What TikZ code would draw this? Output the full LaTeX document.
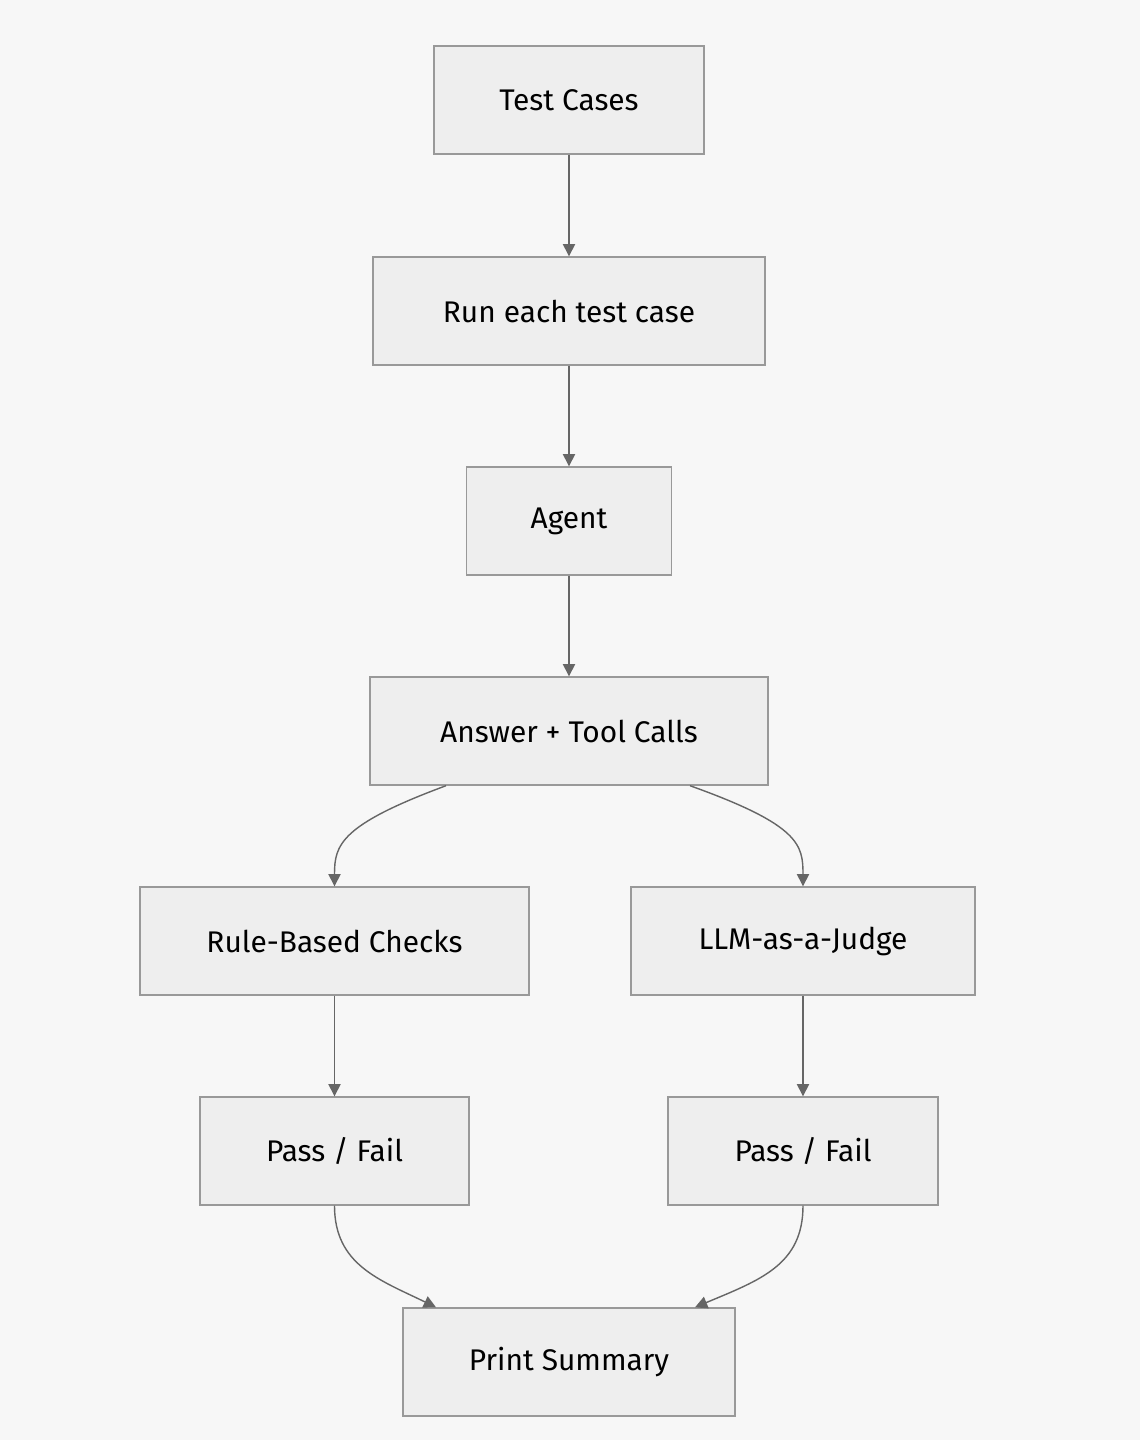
\documentclass[tikz,border=0pt]{standalone}
\usepackage{fontspec}
\setmainfont{Fira Sans}
\usetikzlibrary{arrows.meta}
\definecolor{bgcol}{HTML}{F7F7F7}
\definecolor{boxfill}{HTML}{EEEEEE}
\definecolor{boxline}{HTML}{999999}
\definecolor{linkcol}{HTML}{666666}
\begin{document}
\begin{tikzpicture}[
  box/.style={draw=boxline,fill=boxfill,line width=0.8pt,minimum height=2.16cm,
    font=\fontsize{17}{20}\selectfont},
  link/.style={draw=linkcol,line width=0.8pt,-{Triangle[length=7pt,width=7pt]}}]
\fill[bgcol] (0,0) rectangle (22.8,-28.8);
\useasboundingbox (0,0) rectangle (22.8,-28.8);

\node[box,minimum width=5.4cm] (tests) at (11.38,-2.0) {Test Cases};
\node[box,minimum width=7.84cm] (run) at (11.38,-6.22) {Run each test case};
\node[box,minimum width=4.1cm] (agent) at (11.38,-10.42) {Agent};
\node[box,minimum width=7.96cm] (answer) at (11.38,-14.62) {Answer + Tool Calls};
\node[box,minimum width=7.78cm] (rule) at (6.69,-18.82) {Rule-Based Checks};
\node[box,minimum width=6.88cm] (judge) at (16.06,-18.82) {LLM-as-a-Judge};
\node[box,minimum width=5.38cm] (passl) at (6.69,-23.02) {Pass / Fail};
\node[box,minimum width=5.4cm] (passr) at (16.06,-23.02) {Pass / Fail};
\node[box,minimum width=6.64cm] (summary) at (11.38,-27.24) {Print Summary};

\draw[link] (tests) -- (run);
\draw[link] (run) -- (agent);
\draw[link] (agent) -- (answer);
\draw[link] ([xshift=-2.46cm]answer.south) .. controls (6.8,-16.5) and (6.69,-16.9) .. (rule.north);
\draw[link] ([xshift=2.42cm]answer.south) .. controls (16.0,-16.5) and (16.06,-16.9) .. (judge.north);
\draw[link] (rule) -- (passl);
\draw[link] (judge) -- (passr);
\draw[link] (passl.south) .. controls (6.69,-25.3) and (7.6,-25.6) .. ([xshift=-2.66cm]summary.north);
\draw[link] (passr.south) .. controls (16.06,-25.3) and (15.2,-25.6) .. ([xshift=2.52cm]summary.north);
\end{tikzpicture}
\end{document}
